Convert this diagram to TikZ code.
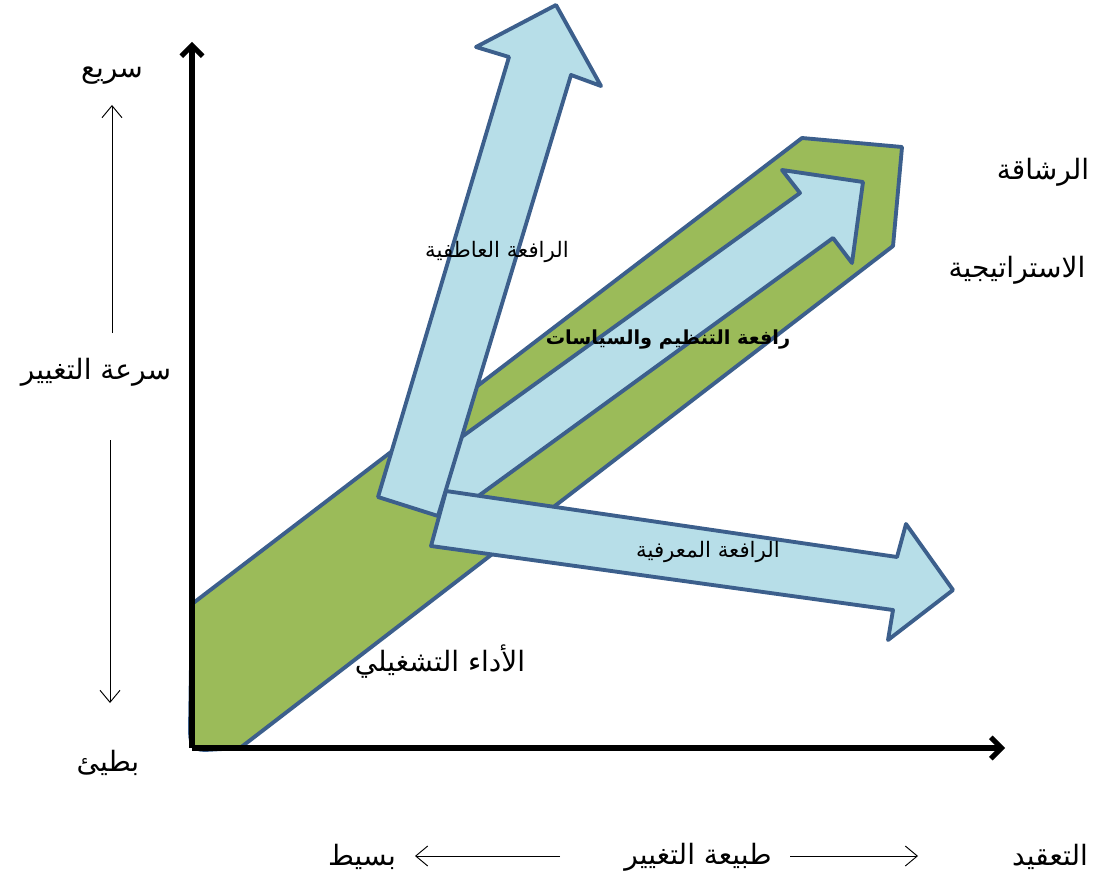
\documentclass[tikz,border=0pt]{standalone}
\usepackage{fontspec}
\usetikzlibrary{arrows.meta}
\TeXXeTstate=1
\newfontfamily\arabicfont[Script=Arabic]{DejaVu Sans}
\definecolor{edgeblue}{HTML}{3C5F8C}
\definecolor{bandgreen}{HTML}{9BBB59}
\definecolor{arrowblue}{HTML}{B7DEE8}
\begin{document}
\begin{tikzpicture}[x=0.75pt,y=-0.75pt,
  blockarrow/.style={fill=arrowblue,draw=edgeblue,line width=2.9pt,line join=round},
  band/.style={fill=bandgreen,draw=edgeblue,line width=2.9pt,line join=round},
  axisline/.style={line width=3.8pt,-{Straight Barb[length=8pt,width=16pt]}},
  thinarrow/.style={line width=0.7pt,-{Straight Barb[length=9pt,width=15pt]}},
  lbl/.style={font=\arabicfont\fontsize{21}{24}\selectfont,inner sep=0pt},
  lblsmall/.style={font=\arabicfont\fontsize{16}{19}\selectfont,inner sep=0pt},
  lblbold/.style={font=\arabicfont\bfseries\fontsize{14.5}{17}\selectfont,inner sep=0pt},
]
\useasboundingbox (0,0) rectangle (1094,880);
% green band
\coordinate (g1) at (192,604);
\coordinate (g2) at (802,138);
\coordinate (g3) at (902,147);
\coordinate (g4) at (893,246);
\coordinate (g5) at (240,748);
\draw[band] (g1) -- (g2) -- (g3) -- (g4) -- (g5) -- (205,750) .. controls (191,750) and (190,742) .. (190,728) -- cycle;
% inner arrow (organisation & policies)
\draw[blockarrow] (420,467) -- (800,193) -- (782,170) -- (863,182) -- (852,263) -- (833,238) -- (455,513) -- cycle;
% cognitive arrow
\draw[blockarrow] (446,491) -- (897,557) -- (906,524) -- (953,590) -- (888,640) -- (893,610) -- (431,546) -- cycle;
% emotional arrow
\draw[blockarrow] (378,497) -- (509,57) -- (476,47) -- (556,5) -- (601,86) -- (571,75) -- (438,516) -- cycle;
% axes
\coordinate (o) at (192,748);
\coordinate (ytip) at (192,42);
\coordinate (xtip) at (1005,748);
\draw[axisline] (o) -- (ytip);
\draw[axisline] (o) -- (xtip);
% labels
\node[lbl] (fast) at (112,76) {\beginR سريع\endR};
\node[lbl] (speed) at (96,372) {\beginR سرعة التغيير\endR};
\node[lbl] (slow) at (108,763) {\beginR بطيئ\endR};
\node[lbl] (agility) at (1043,172) {\beginR الرشاقة\endR};
\node[lbl] (strategy) at (1017,270) {\beginR الاستراتيجية\endR};
\node[lblsmall] (emo) at (497,252) {\beginR الرافعة العاطفية\endR};
\node[lblbold] (org) at (668,340) {\beginR رافعة التنظيم والسياسات\endR};
\node[lblsmall] (cog) at (708,552) {\beginR الرافعة المعرفية\endR};
\node[lbl] (ops) at (440,662) {\beginR الأداء التشغيلي\endR};
\node[lbl] (complex) at (1050,857) {\beginR التعقيد\endR};
\node[lbl] (nature) at (698,857) {\beginR طبيعة التغيير\endR};
\node[lbl] (simple) at (362,857) {\beginR بسيط\endR};
% thin arrows
\coordinate (up0) at (112,333);
\coordinate (up1) at (112,105);
\coordinate (dn0) at (110,440);
\coordinate (dn1) at (110,703);
\coordinate (rt0) at (790,856);
\coordinate (rt1) at (918,856);
\coordinate (lf0) at (560,856);
\coordinate (lf1) at (415,856);
\draw[thinarrow] (up0) -- (up1);
\draw[thinarrow] (dn0) -- (dn1);
\draw[thinarrow] (rt0) -- (rt1);
\draw[thinarrow] (lf0) -- (lf1);
\end{tikzpicture}
\end{document}
